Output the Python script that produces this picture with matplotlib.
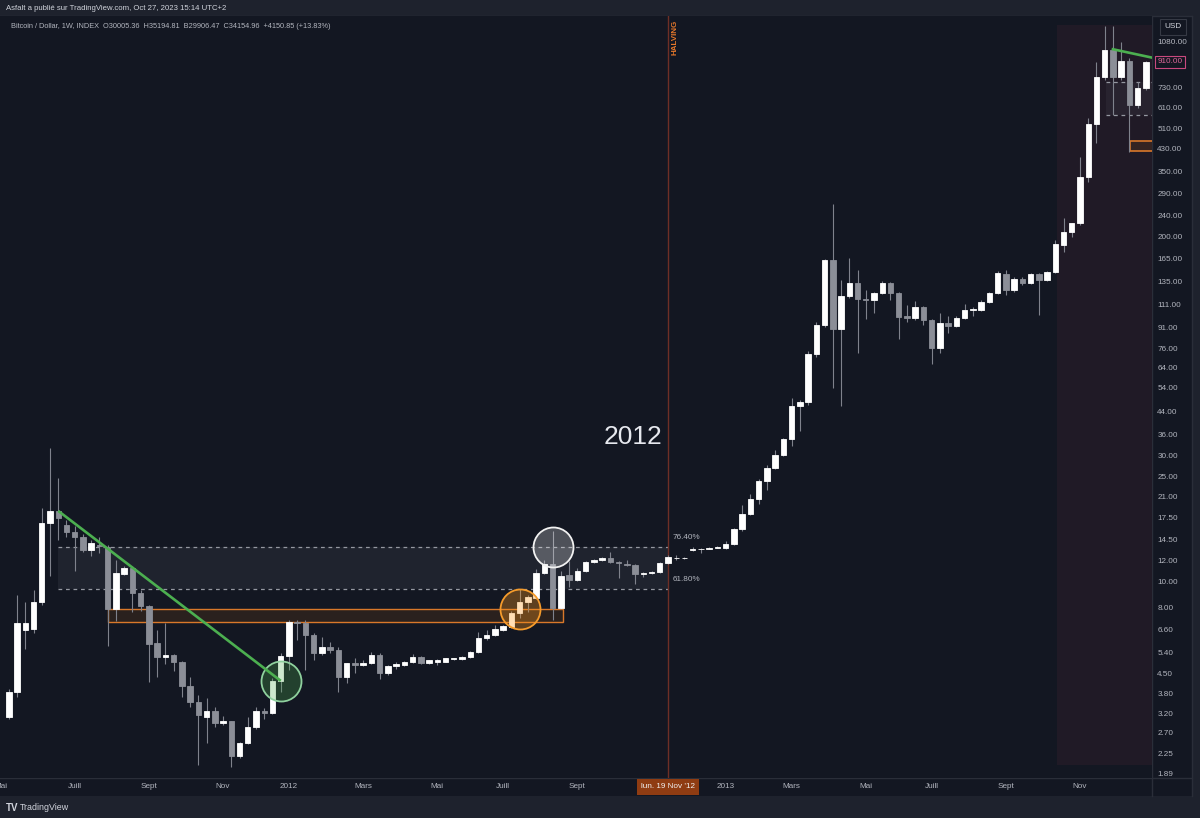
import matplotlib
matplotlib.use("Agg")
import matplotlib.pyplot as plt
import matplotlib.transforms as mtransforms
from matplotlib.patches import Rectangle
from matplotlib.ticker import FixedLocator, FixedFormatter, NullLocator
import pandas as pd

# -----------------------------
# Weekly BTC candles, Mon 9 May 2011 .. Mon 30 Dec 2013
# -----------------------------
first_week = "2011-05-09"
halving_week = "2012-11-19"

opens = [
    3.10, 3.86, 6.60, 6.64, 8.42, 16.7, 18.5, 16.4, 15.4, 14.8,
    13.2, 13.8, 13.5, 7.9, 10.7, 11.3, 9.06, 8.13, 5.9, 5.2,
    5.3, 5.0, 4.06, 3.54, 3.10, 3.25, 2.95, 2.98, 2.20, 2.48,
    2.83, 3.25, 3.20, 4.24, 5.26, 7.08, 7.00, 6.30, 5.38, 5.70,
    5.55, 4.37, 4.94, 4.85, 4.94, 5.30, 4.52, 4.80, 4.85, 5.00,
    5.22, 4.95, 5.00, 5.00, 5.12, 5.12, 5.20, 5.46, 6.13, 6.30,
    6.60, 6.76, 7.62, 8.38, 8.70, 10.8, 11.7, 7.95, 10.6, 10.2,
    11.0, 11.9, 12.1, 12.3, 11.9, 11.7, 11.6, 10.7, 10.8, 10.85,
    11.8, 12.3, 12.3, 13.2, 13.3, 13.35, 13.45, 13.4, 13.9, 15.8,
    18.0, 20.5, 23.9, 26.9, 30.0, 34.4, 45.9, 47.5, 72, 92.8,
    163, 89.4, 119, 134, 116, 115, 122.8, 133, 122.8, 100,
    98.5, 108, 97, 76.2, 94, 92, 99, 105.7, 106, 113,
    122, 145, 125.7, 138, 134, 144, 137, 147, 186, 207,
    224, 336, 529, 797, 1005, 800, 916, 625, 726]
highs = [
    3.95, 8.9, 8.4, 9.3, 19.0, 31.9, 24.7, 17.1, 16.3, 15.1,
    14.4, 14.8, 13.8, 12.1, 11.5, 11.5, 9.3, 8.2, 6.6, 7.0,
    5.35, 5.05, 4.4, 3.75, 3.65, 3.39, 3.13, 3.0, 2.50, 3.1,
    3.39, 3.35, 4.35, 5.4, 7.2, 7.2, 7.2, 6.4, 6.22, 5.95,
    5.7, 4.95, 5.15, 5.1, 5.45, 5.4, 4.85, 5.0, 5.05, 5.35,
    5.25, 5.1, 5.12, 5.17, 5.18, 5.25, 5.5, 6.5, 6.6, 6.9,
    6.9, 7.8, 9.4, 8.9, 11.2, 12.1, 15.5, 11.0, 12.0, 11.3,
    12.0, 12.2, 12.4, 13.0, 12.0, 12.1, 11.7, 10.9, 11.0, 11.9,
    12.6, 12.6, 12.4, 13.5, 13.4, 13.5, 13.6, 14.2, 16.0, 19.5,
    21.5, 24.3, 27.6, 31.4, 34.8, 49.3, 48.5, 74.0, 95, 165,
    266, 137, 166, 149.5, 125.7, 124, 136, 135, 124, 110.6,
    114, 109, 98, 103, 100.4, 100, 111, 108.7, 115, 123,
    148.8, 149, 141, 141, 146, 146, 148, 194, 234, 225,
    399, 557, 910, 1243, 1243, 1083, 938, 766, 915]
lows = [
    3.05, 3.7, 5.6, 6.4, 8.2, 10.5, 14.4, 14.8, 11.0, 13.0,
    12.5, 12.9, 5.75, 7.1, 10.6, 7.7, 7.8, 4.20, 4.4, 4.9,
    4.63, 3.7, 3.39, 2.04, 2.47, 2.85, 2.88, 2.0, 2.18, 2.45,
    2.8, 3.04, 3.18, 3.86, 4.66, 6.05, 4.66, 5.1, 5.3, 5.4,
    3.86, 4.16, 4.52, 4.8, 4.9, 4.3, 4.45, 4.7, 4.8, 4.95,
    4.9, 4.9, 4.85, 4.98, 5.08, 5.1, 5.18, 5.4, 6.05, 6.25,
    6.55, 6.7, 7.3, 7.7, 8.6, 10.7, 7.2, 7.9, 9.6, 10.1,
    10.9, 11.8, 12.0, 11.8, 10.3, 11.5, 9.8, 10.4, 10.7, 10.8,
    11.7, 12.1, 12.2, 13.1, 12.8, 13.3, 13.4, 13.3, 13.8, 15.6,
    17.8, 19.7, 22.2, 26.5, 29.8, 32.5, 37.0, 46.5, 70, 91,
    53.6, 46, 117, 73, 97.5, 102.7, 121, 115, 82, 95.4,
    97, 92.8, 66, 72.5, 86.4, 91, 98, 100.4, 105, 112,
    121, 120.6, 124, 131, 132, 101, 136, 146, 175, 199.5,
    220, 321.6, 451, 780, 574, 780, 415, 610, 715]
closes = [
    3.85, 6.98, 6.98, 8.40, 16.7, 18.5, 17.4, 15.4, 14.8, 13.2,
    13.97, 13.6, 7.9, 10.8, 11.3, 9.06, 8.13, 5.83, 5.20, 5.30,
    5.0, 4.06, 3.54, 3.16, 3.25, 2.95, 2.98, 2.20, 2.48, 2.83,
    3.25, 3.20, 4.24, 5.26, 7.08, 6.98, 6.30, 5.38, 5.70, 5.55,
    4.37, 4.94, 4.85, 4.94, 5.30, 4.52, 4.83, 4.90, 5.00, 5.22,
    4.95, 5.06, 5.10, 5.15, 5.15, 5.20, 5.46, 6.13, 6.30, 6.63,
    6.80, 7.62, 8.38, 8.75, 10.8, 11.7, 7.95, 10.5, 10.2, 11.0,
    11.9, 12.1, 12.3, 11.9, 11.8, 11.6, 10.7, 10.8, 10.9, 11.75,
    12.4, 12.3, 12.3, 13.3, 13.3, 13.4, 13.5, 13.9, 15.8, 18.0,
    20.6, 24.0, 26.9, 30.0, 34.5, 45.9, 47.6, 72.0, 92.8, 163,
    89.4, 119.3, 134, 116, 115, 122.8, 133, 122.8, 99.7, 98.5,
    108, 96.9, 76.2, 94.2, 92, 98.9, 105.7, 107, 113, 122,
    145.3, 125.7, 138, 134, 144, 137.6, 146.6, 186.7, 207, 224,
    336, 529, 797, 1005, 797, 916, 625, 726, 906]

price_ticks = [1080, 730, 610, 510, 430, 350, 290, 240, 200, 165, 135, 111, 91,
               76, 64, 54, 44, 36, 30, 25, 21, 17.5, 14.5, 12, 10, 8, 6.6, 5.4,
               4.5, 3.8, 3.2, 2.7, 2.25, 1.89]
last_price = 910.00

time_dates = ["2011-05-02", "2011-07-04", "2011-09-05", "2011-11-07", "2012-01-02",
              "2012-03-05", "2012-05-07", "2012-07-02", "2012-09-03", "2013-01-07",
              "2013-03-04", "2013-05-06", "2013-07-01", "2013-09-02", "2013-11-04"]
time_names = ["Mai", "Juill", "Sept", "Nov", "2012", "Mars", "Mai", "Juill", "Sept",
              "2013", "Mars", "Mai", "Juill", "Sept", "Nov"]

# drawings (prices)
fib_top, fib_bot = 13.57, 9.40          # 76.40% / 61.80%
ob_top, ob_bot = 7.90, 7.04             # orange box
trend_start, trend_end = 18.5, 4.24     # green trend line
top_trend = (1014, 943)
top_box = (765.6, 573.6)
top_ob = (457.5, 419.6)
zone_top, zone_bot = 1251, 2.04

BG = "#131722"
PANEL = "#1e222d"
BORDER = "#2a2e39"
TXT = "#b2b5be"
UP = "#ffffff"
DOWN = "#8b8e97"
WICK = "#7f828c"
ORANGE_EDGE = "#d9782a"
ORANGE_FILL = (0.96, 0.49, 0.0, 0.10)
FS = 5.9  # axis text size

# -----------------------------
# helpers
# -----------------------------
dates = pd.date_range(first_week, periods=len(opens), freq="7D")
t0 = dates[0]


def wk(d):
    return (pd.Timestamp(d) - t0).days / 7.0


xs = list(range(len(opens)))
h_idx = wk(halving_week)

W, H = 1200, 818
plt.rcParams["font.family"] = ["Liberation Sans", "DejaVu Sans"]
fig = plt.figure(figsize=(12, 8.18), dpi=100, facecolor=PANEL)


def fx(px):
    return px / W


def fy(py):
    return 1 - py / H


# background strips (behind the axes)
fig.patches.append(Rectangle((0, fy(796)), fx(1192), fy(16) - fy(796),
                             transform=fig.transFigure, facecolor=BG, edgecolor="none", zorder=-5))
for xa, ya in [([0, fx(1192)], [fy(778), fy(778)]),
               ([fx(1152), fx(1152)], [fy(16), fy(796)]),
               ([fx(1192), fx(1192)], [fy(16), fy(796)]),
               ([0, fx(1192)], [fy(16), fy(16)])]:
    fig.add_artist(plt.Line2D(xa, ya, color=BORDER, lw=1, transform=fig.transFigure, zorder=-4))

ax = fig.add_axes([0, fy(778), fx(1152), fy(16) - fy(778)])
ax.set_facecolor(BG)
for s in ax.spines.values():
    s.set_visible(False)
ax.set_yscale("log")
ax.set_ylim(1.825, 1353)
ax.set_xlim(-1.07, 138.74)

# shaded zone at the right
ax.add_patch(Rectangle((127.2, zone_bot), 20, zone_top - zone_bot,
                       facecolor="#201a26", edgecolor="none", zorder=0.5))

# fib zone
ax.add_patch(Rectangle((6, fib_bot), h_idx - 6, fib_top - fib_bot,
                       facecolor=(0.47, 0.48, 0.53, 0.12), edgecolor="none", zorder=1))
ax.hlines([fib_top, fib_bot], 6, h_idx, colors="#9598a1", linestyles=(0, (3, 3)), lw=0.9, zorder=1.2)
ax.annotate("76.40%", (h_idx, fib_top), xytext=(3, 4), textcoords="offset points",
            color=TXT, fontsize=FS, va="bottom", ha="left")
ax.annotate("61.80%", (h_idx, fib_bot), xytext=(3, 4), textcoords="offset points",
            color=TXT, fontsize=FS, va="bottom", ha="left")

# orange box
ax.add_patch(Rectangle((12, ob_bot), 67.2 - 12, ob_top - ob_bot,
                       facecolor=ORANGE_FILL, edgecolor=ORANGE_EDGE, lw=1.0, zorder=1.3))

# top right boxes
ax.add_patch(Rectangle((133.2, top_box[1]), 10, top_box[0] - top_box[1],
                       facecolor=(0.47, 0.48, 0.53, 0.10), edgecolor="none", zorder=1))
ax.hlines(list(top_box), 133.2, 139, colors="#9598a1", linestyles=(0, (3, 3)), lw=0.9, zorder=1.2)
ax.add_patch(Rectangle((136.1, top_ob[1]), 10, top_ob[0] - top_ob[1],
                       facecolor=ORANGE_FILL, edgecolor=ORANGE_EDGE, lw=1.2, zorder=1.3))

# halving
ax.axvline(h_idx, color="#6e2f26", lw=1.0, zorder=1.5)
ax.text(h_idx + 0.85, 1128, "HALVING", rotation=90, ha="center", va="center",
        color="#e8792b", fontsize=5.8, fontweight="bold")

# candles
bottoms, heights, colors = [], [], []
for o, c in zip(opens, closes):
    bottoms.append(min(o, c))
    heights.append(abs(c - o))
    colors.append(UP if c >= o else DOWN)
ax.vlines(xs, lows, highs, colors=WICK, lw=0.8, zorder=2)
ax.bar(xs, heights, bottom=bottoms, width=0.66, color=colors, edgecolor=colors,
       lw=0.6, zorder=3)

# trend lines
ax.plot([6, 33], [trend_start, trend_end], color="#4caf50", lw=1.9, zorder=5,
        solid_capstyle="butt")
ax.plot([134, 138.74], list(top_trend), color="#4caf50", lw=1.9, zorder=5)

# circles
ax.scatter([33], [trend_end], s=830, facecolor=(0.30, 0.69, 0.31, 0.28),
           edgecolor="#8fd19e", lw=1.3, zorder=4)
ax.scatter([62], [ob_top], s=830, facecolor=(1.0, 0.6, 0.1, 0.32),
           edgecolor="#f59b2b", lw=1.3, zorder=4)
ax.scatter([66], [fib_top], s=830, facecolor=(1, 1, 1, 0.25),
           edgecolor="#f2f2f2", lw=1.3, zorder=4)

# big year label
ax.text(75.75, 35.1, "2012", ha="center", va="center", color="#e6e8ee", fontsize=19)

# price axis
ax.yaxis.tick_right()
ax.yaxis.set_major_locator(FixedLocator(price_ticks))
ax.yaxis.set_major_formatter(FixedFormatter(["%.2f" % p for p in price_ticks]))
ax.yaxis.set_minor_locator(NullLocator())
ax.tick_params(axis="y", length=0, pad=3.8, labelsize=FS, labelcolor=TXT)
ax.annotate("%.2f" % last_price, (1.0, last_price),
            xycoords=mtransforms.blended_transform_factory(ax.transAxes, ax.transData),
            xytext=(3.8, 0), textcoords="offset points",
            ha="left", va="center", fontsize=FS, color="#e0689a", annotation_clip=False, zorder=6,
            bbox=dict(boxstyle="square,pad=0.3", facecolor=BG, edgecolor="#c8497e", lw=0.8))

# time axis
ax.set_xticks([])
tb = mtransforms.blended_transform_factory(ax.transData, ax.transAxes)
for d, name in zip(time_dates, time_names):
    ax.text(wk(d), -0.0118, name, transform=tb, ha="center", va="center",
            fontsize=FS, color=TXT, clip_on=False)
ax.text(h_idx, -0.0118, "lun. 19 Nov '12", transform=tb, ha="center", va="center",
        fontsize=FS, color="#f0f0f0", clip_on=False,
        bbox=dict(boxstyle="square,pad=0.5", facecolor="#8f3c12", edgecolor="none"))

# USD box
fig.text(fx(1173), fy(27), "USD", ha="center", va="center", fontsize=FS, color="#d1d4dc",
         bbox=dict(boxstyle="square,pad=0.6", facecolor=BG, edgecolor="#363a45", lw=0.8))

# header
fig.text(fx(6), fy(8), "Asfalt a publié sur TradingView.com, Oct 27, 2023 15:14 UTC+2",
         ha="left", va="center", fontsize=5.6, color="#d1d4dc")
fig.text(fx(11), fy(26),
         "Bitcoin / Dollar, 1W, INDEX  O30005.36  H35194.81  B29906.47  C34154.96  +4150.85 (+13.83%)",
         ha="left", va="center", fontsize=5.3, color=TXT)

# footer
fig.text(fx(6), fy(808), "TV", ha="left", va="center", fontsize=7, color="#d1d4dc", fontweight="bold")
fig.text(fx(20), fy(808), "TradingView", ha="left", va="center", fontsize=6.4, color="#d1d4dc")

fig.savefig("out.png", dpi=100, facecolor=PANEL)
